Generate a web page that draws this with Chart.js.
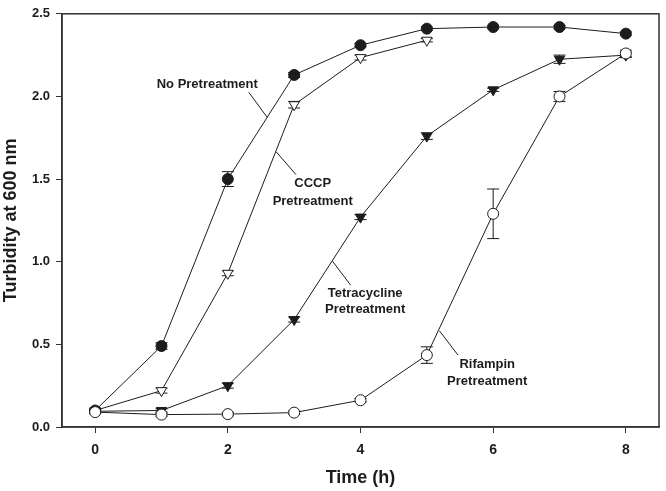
<!DOCTYPE html>
<html lang="en">
<head>
    <meta charset="UTF-8">
    <title>Turbidity at 600 nm</title>
    <script src="https://cdn.jsdelivr.net/npm/chart.js"></script>
    <style>
        html, body {
            margin: 0;
            padding: 0;
            overflow: hidden;
            background-color: #ffffff;
        }
        #box {
            width: 666px;
            height: 491px;
        }
        canvas {
            display: block;
        }
    </style>
</head>
<body>
    <div id="box"><canvas id="grafico"></canvas></div>

    <script>
        // dados
        const tempo = [0, 1, 2, 3, 4, 5, 6, 7, 8];
        const xTicks = [0, 2, 4, 6, 8];
        const yTicks = [0.0, 0.5, 1.0, 1.5, 2.0, 2.5];

        const semPre = [0.10, 0.49, 1.50, 2.13, 2.31, 2.41, 2.42, 2.42, 2.38];
        const semPreErr = [0.01, 0.02, 0.045, 0.015, 0.01, 0.01, 0.01, 0.01, 0.01];

        const cccp = [0.10, 0.22, 0.93, 1.95, 2.235, 2.34];
        const cccpErr = [0.01, 0.015, 0.015, 0.02, 0.015, 0.01];

        const tetra = [0.095, 0.10, 0.25, 0.65, 1.27, 1.76, 2.04, 2.225, 2.25];
        const tetraErr = [0.01, 0.01, 0.015, 0.015, 0.015, 0.02, 0.01, 0.025, 0.015];

        const rifam = [0.09, 0.075, 0.078, 0.087, 0.162, 0.435, 1.29, 2.00, 2.26];
        const rifamErr = [0.01, 0.01, 0.01, 0.01, 0.01, 0.05, 0.15, 0.03, 0.02];

        // rótulos com linha-guia (coordenadas em unidades do gráfico)
        const rotulos = [
            { linhas: ['No Pretreatment'], x: 1.69, y: [2.07], guia: [2.316, 2.025, 2.594, 1.873] },
            { linhas: ['CCCP', 'Pretreatment'], x: 3.28, y: [1.474, 1.367], guia: [2.729, 1.665, 3.028, 1.527] },
            { linhas: ['Tetracycline', 'Pretreatment'], x: 4.07, y: [0.809, 0.71], guia: [3.578, 1.003, 3.852, 0.858] },
            { linhas: ['Rifampin', 'Pretreatment'], x: 5.91, y: [0.377, 0.275], guia: [5.19, 0.582, 5.47, 0.435] }
        ];

        const cor = '#1c1c1c';
        const fonte = "'Liberation Sans', Arial, sans-serif";

        function pontos(valores) {
            return valores.map((v, i) => ({ x: tempo[i], y: v }));
        }

        function serie(valores, erros, estilo, preenchido, rot) {
            return {
                data: pontos(valores),
                erros: erros,
                borderColor: cor,
                borderWidth: 1,
                pointStyle: estilo,
                pointRotation: rot,
                pointRadius: estilo === 'triangle' ? 6 : 5.5,
                pointBorderWidth: 1,
                pointBorderColor: cor,
                pointBackgroundColor: preenchido ? cor : '#ffffff',
                tension: 0
            };
        }

        const barrasErro = {
            id: 'barrasErro',
            beforeDatasetsDraw(chart) {
                const ctx = chart.ctx;
                const xs = chart.scales.x, ys = chart.scales.y;
                ctx.save();
                ctx.strokeStyle = cor;
                ctx.lineWidth = 1;
                chart.data.datasets.forEach(ds => {
                    ds.data.forEach((p, i) => {
                        const e = ds.erros[i];
                        const px = xs.getPixelForValue(p.x);
                        const y1 = ys.getPixelForValue(p.y - e);
                        const y2 = ys.getPixelForValue(p.y + e);
                        ctx.beginPath();
                        ctx.moveTo(px, y1); ctx.lineTo(px, y2);
                        ctx.moveTo(px - 6, y1); ctx.lineTo(px + 6, y1);
                        ctx.moveTo(px - 6, y2); ctx.lineTo(px + 6, y2);
                        ctx.stroke();
                    });
                });
                ctx.restore();
            }
        };

        const moldura = {
            id: 'moldura',
            afterDraw(chart) {
                const ctx = chart.ctx;
                const a = chart.chartArea;
                const xs = chart.scales.x, ys = chart.scales.y;
                ctx.save();
                ctx.strokeStyle = '#333';
                ctx.lineWidth = 1.5;
                ctx.strokeRect(a.left, a.top, a.right - a.left, a.bottom - a.top);

                // rótulos
                ctx.fillStyle = cor;
                ctx.font = 'bold 13px ' + fonte;
                ctx.textAlign = 'center';
                ctx.textBaseline = 'middle';
                ctx.lineWidth = 1;
                ctx.strokeStyle = cor;
                rotulos.forEach(r => {
                    r.linhas.forEach((t, i) => {
                        ctx.fillText(t, xs.getPixelForValue(r.x), ys.getPixelForValue(r.y[i]));
                    });
                    ctx.beginPath();
                    ctx.moveTo(xs.getPixelForValue(r.guia[0]), ys.getPixelForValue(r.guia[1]));
                    ctx.lineTo(xs.getPixelForValue(r.guia[2]), ys.getPixelForValue(r.guia[3]));
                    ctx.stroke();
                });
                ctx.restore();
            }
        };

        new Chart(document.getElementById('grafico'), {
            type: 'line',
            data: {
                datasets: [
                    serie(rifam, rifamErr, 'circle', false, 0),
                    serie(tetra, tetraErr, 'triangle', true, 180),
                    serie(cccp, cccpErr, 'triangle', false, 180),
                    serie(semPre, semPreErr, 'circle', true, 0)
                ]
            },
            options: {
                responsive: true,
                maintainAspectRatio: false,
                animation: false,
                layout: { padding: { top: 6, right: 2, left: 0, bottom: 0 } },
                plugins: {
                    legend: { display: false },
                    tooltip: { enabled: false }
                },
                scales: {
                    x: {
                        type: 'linear',
                        min: -0.5,
                        max: 8.5,
                        afterBuildTicks: s => { s.ticks = xTicks.map(v => ({ value: v })); },
                        afterFit: s => { s.height = 64; },
                        grid: { drawOnChartArea: false, drawTicks: true, tickLength: 6, color: '#333', lineWidth: 1 },
                        border: { display: true, color: '#333', width: 1.5 },
                        ticks: {
                            padding: 9,
                            color: cor,
                            font: { family: fonte, size: 14, weight: 'bold' }
                        },
                        title: {
                            display: true,
                            text: 'Time (h)',
                            color: cor,
                            padding: { top: 0, bottom: 2 },
                            font: { family: fonte, size: 18, weight: 'bold' }
                        }
                    },
                    y: {
                        min: 0,
                        max: 2.5,
                        afterBuildTicks: s => { s.ticks = yTicks.map(v => ({ value: v })); },
                        afterFit: s => { s.width = 62; },
                        grid: { drawOnChartArea: false, drawTicks: true, tickLength: 6, color: '#333', lineWidth: 1 },
                        border: { display: true, color: '#333', width: 1.5 },
                        ticks: {
                            padding: 6,
                            color: cor,
                            font: { family: fonte, size: 13, weight: 'bold' },
                            callback: v => v.toFixed(1)
                        },
                        title: {
                            display: true,
                            text: 'Turbidity at 600 nm',
                            color: cor,
                            padding: { top: 0, bottom: 0 },
                            font: { family: fonte, size: 18, weight: 'bold' }
                        }
                    }
                }
            },
            plugins: [barrasErro, moldura]
        });
    </script>
</body>
</html>
